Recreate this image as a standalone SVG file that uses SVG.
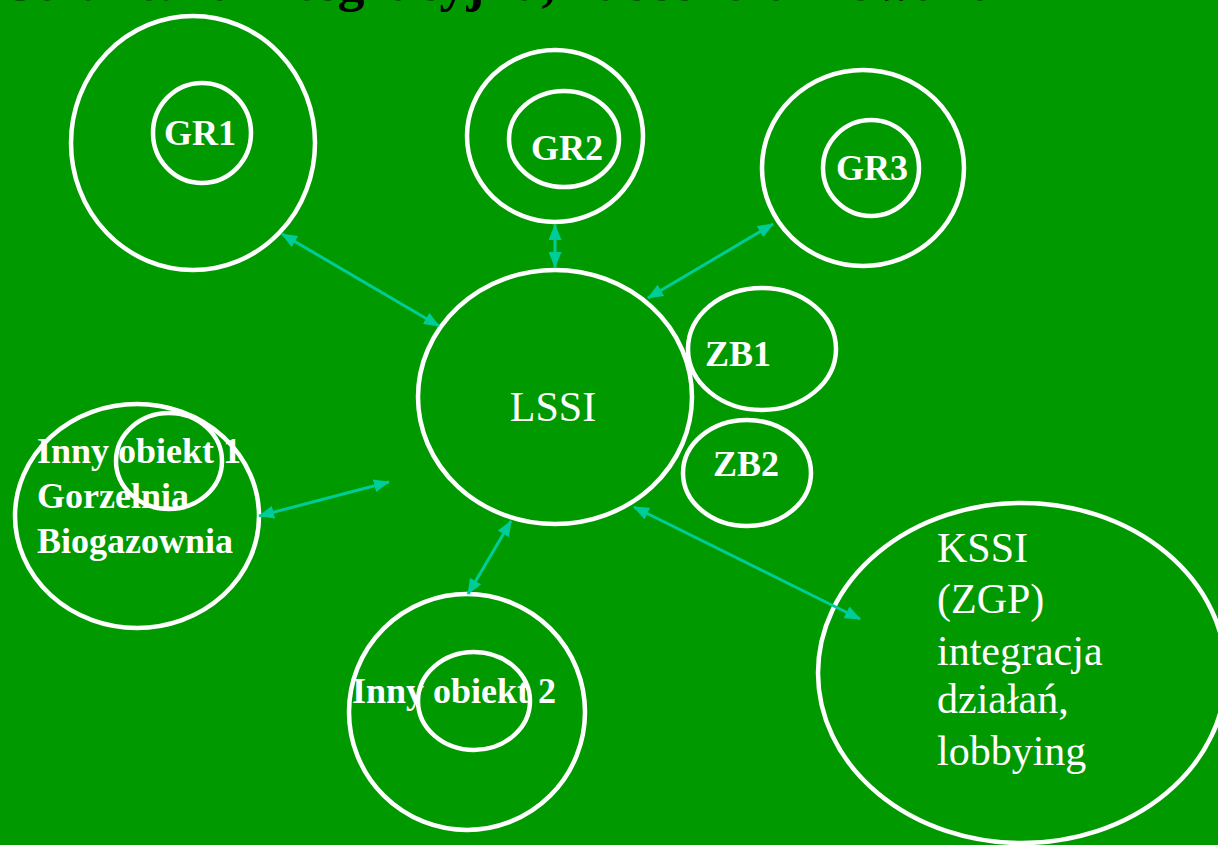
<svg xmlns="http://www.w3.org/2000/svg" width="1218" height="845" viewBox="0 0 1218 845">
<style>
.c{fill:none;stroke:#fff;stroke-width:4.5}
.b{font-family:"Liberation Serif",serif;font-weight:bold;font-size:36px;fill:#fff}
.r{font-family:"Liberation Serif",serif;font-size:42px;fill:#fff}
.a{stroke:#00cc99;stroke-width:3;fill:none;marker-start:url(#h);marker-end:url(#h)}
.t{font-family:"Liberation Serif",serif;font-weight:bold;font-size:54px;fill:#000}
</style>
<defs>
<marker id="h" viewBox="0 0 16 13" refX="15" refY="6.5" markerWidth="16" markerHeight="13" orient="auto-start-reverse" markerUnits="userSpaceOnUse">
<path d="M0,0 L16,6.5 L0,13 z" fill="#00cc99"/>
</marker>
</defs>
<rect width="1218" height="845" fill="#009900"/>
<text class="t" x="6" y="0">Struktura integracyjna, zdecentralizowana</text>
<g id="gr1"><ellipse class="c" cx="193" cy="143" rx="122" ry="127"/><ellipse class="c" cx="202" cy="133" rx="49" ry="50"/><text class="b" x="200" y="145" text-anchor="middle">GR1</text></g>
<g id="gr2"><ellipse class="c" cx="555" cy="136" rx="88" ry="86"/><ellipse class="c" cx="564" cy="139" rx="55" ry="48"/><text class="b" x="567" y="160" text-anchor="middle">GR2</text></g>
<g id="gr3"><ellipse class="c" cx="863" cy="168" rx="101" ry="98"/><ellipse class="c" cx="871" cy="168" rx="48" ry="48"/><text class="b" x="872" y="180" text-anchor="middle">GR3</text></g>
<g id="lssi"><ellipse class="c" cx="555" cy="397" rx="137" ry="127"/><text class="r" x="553" y="421" text-anchor="middle">LSSI</text></g>
<g id="zb1"><ellipse class="c" cx="762" cy="349" rx="74" ry="61"/><text class="b" x="738" y="366" text-anchor="middle">ZB1</text></g>
<g id="zb2"><ellipse class="c" cx="747" cy="473" rx="64" ry="53"/><text class="b" x="746" y="476" text-anchor="middle">ZB2</text></g>
<g id="inny1"><ellipse class="c" cx="137" cy="516" rx="122" ry="112"/><ellipse class="c" cx="169" cy="461" rx="53" ry="48"/><text class="b" x="37" y="463">Inny obiekt 1</text><text class="b" x="37" y="508">Gorzelnia</text><text class="b" x="37" y="553">Biogazownia</text></g>
<g id="inny2"><ellipse class="c" cx="467" cy="712" rx="118" ry="118"/><ellipse class="c" cx="474" cy="701" rx="56" ry="49"/><text class="b" x="352" y="703">Inny obiekt 2</text></g>
<g id="kssi"><ellipse class="c" cx="1022" cy="673" rx="204" ry="170"/><text class="r" x="937" y="562">KSSI</text><text class="r" x="937" y="613">(ZGP)</text><text class="r" x="937" y="665">integracja</text><text class="r" x="937" y="713">działań,</text><text class="r" x="937" y="765">lobbying</text></g>
<g id="connectors">
<line class="a" x1="282" y1="234" x2="439" y2="326"/>
<line class="a" x1="555" y1="225" x2="555" y2="267"/>
<line class="a" x1="773" y1="224" x2="648" y2="298"/>
<line class="a" x1="259" y1="516" x2="389" y2="482"/>
<line class="a" x1="511" y1="521" x2="468" y2="594"/>
<line class="a" x1="634" y1="507" x2="860" y2="619"/>
</g>
</svg>
